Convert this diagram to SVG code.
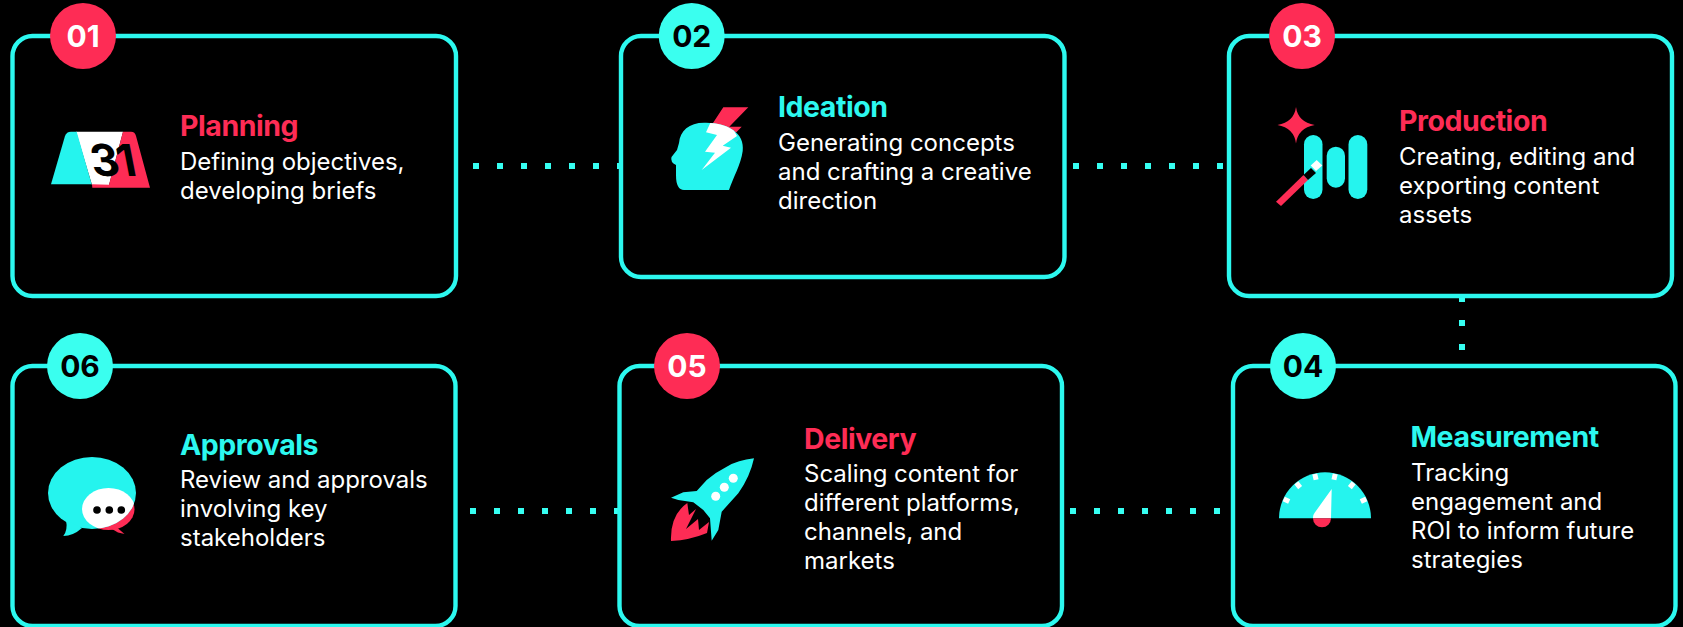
<svg xmlns="http://www.w3.org/2000/svg" width="1683" height="627" viewBox="0 0 1683 627">
<style>
.box{fill:#000;stroke:#2cf8ef;stroke-width:4.4}
.dots{fill:none;stroke:#36fff2;stroke-width:6;stroke-dasharray:6 18}
.c{fill:#25f4ee}.r{fill:#fe2c55}.w{fill:#fff}.k{fill:#000}
.bc{fill:#3affef}.br{fill:#fe2c55}
text{font-family:Inter,"Liberation Sans",sans-serif}
.n{font-size:30px;font-weight:700;text-anchor:middle}
.t{font-size:28.5px;font-weight:700;letter-spacing:-.45px}
.tc{fill:#2cf8ef}.tr{fill:#fe2c55}
.d{font-size:24px;fill:#fff}
</style>
<defs>
<clipPath id="headClip"><path d="M729 190C733 178 741 164 742.700 151C745 133 728 123 706 122.700C690 122 680 130 679 143L677 150L671.500 157Q670 162 676 165L676 175Q676 190 684 190Z"/></clipPath>
<clipPath id="bubbleClip"><ellipse cx="92" cy="493" rx="44" ry="36"/></clipPath>
</defs>
<rect width="1683" height="627" fill="#000"/>
<g id="connectors">
<path class="dots" d="M473 166H621"/>
<path class="dots" d="M1073 166H1223"/>
<path class="dots" d="M470 511H618"/>
<path class="dots" d="M1070 511H1220"/>
<path class="dots" d="M1462 296V350"/>
</g>
<g id="node-01">
<rect class="box" x="12.500" y="36" width="443.500" height="260" rx="20"/>
<circle class="br" cx="83" cy="36" r="33"/>
<text class="n w" x="83" y="46.500">01</text>
<path class="w" d="M76 131.700H123L109 185H92Z"/>
<path class="c" d="M51 184.300L65 136Q66.500 131.700 71 131.700H76.700L91.700 184.300Z"/>
<path class="r" d="M123 131.700H131Q135 131.700 136 136L150 187.700H92.300L92 184.300L109 184.800Z"/>
<text class="k" transform="translate(93.500 175.500) skewX(11)" font-size="44" font-weight="700" letter-spacing="-2.500">31</text>
<text class="t tr" x="180" y="135.500">Planning</text>
<text class="d" x="180" y="170">Defining objectives,</text>
<text class="d" x="180" y="199">developing briefs</text>
</g>
<g id="node-02">
<rect class="box" x="621" y="36" width="443.500" height="241" rx="20"/>
<circle class="bc" cx="691.700" cy="36" r="33"/>
<text class="n k" x="691.700" y="46.500">02</text>
<path class="r" d="M723.300 107.300H748.300L729.300 126.700H741.700L731.700 137L711.700 125Z"/>
<path class="c" d="M729 190C733 178 741 164 742.700 151C745 133 728 123 706 122.700C690 122 680 130 679 143L677 150L671.500 157Q670 162 676 165L676 175Q676 190 684 190Z"/>
<path class="w" clip-path="url(#headClip)" d="M711.700 120L727 118L737 136L722.700 145.700L731 147.700L701.700 170L715 152.700L705 151.700L717 135L706 132.300Z"/>
<text class="t tc" x="778" y="117">Ideation</text>
<text class="d" x="778" y="151">Generating concepts</text>
<text class="d" x="778" y="180">and crafting a creative</text>
<text class="d" x="778" y="209">direction</text>
</g>
<g id="node-03">
<rect class="box" x="1229" y="36" width="443" height="260" rx="20"/>
<circle class="br" cx="1302" cy="36" r="33"/>
<text class="n w" x="1302" y="46.500">03</text>
<path class="r" d="M1296 107Q1298 122 1314.700 125Q1298 128 1296 143.500Q1294 128 1277.500 125Q1294 122 1296 107Z"/>
<rect class="c" x="1304" y="135" width="18.500" height="64" rx="9.200"/>
<rect class="c" x="1326.700" y="146.700" width="18.300" height="41" rx="9.100"/>
<rect class="c" x="1348.500" y="135" width="18.800" height="64" rx="9.400"/>
<path class="r" d="M1276 201.700L1303.500 175L1308 180L1281 206Z"/>
<path class="k" d="M1303.500 175L1311 168L1316 173L1308 180Z"/>
<path class="w" d="M1310.700 165.500L1316.700 160L1322.300 165.500L1316 171Z"/>
<text class="t tr" x="1399" y="131">Production</text>
<text class="d" x="1399" y="165">Creating, editing and</text>
<text class="d" x="1399" y="194">exporting content</text>
<text class="d" x="1399" y="223">assets</text>
</g>
<g id="node-04">
<rect class="box" x="1233" y="366" width="442.500" height="260" rx="20"/>
<circle class="bc" cx="1303" cy="366" r="33"/>
<text class="n k" x="1303" y="376.500">04</text>
<path class="c" d="M1279 518.300A46 46 0 0 1 1371 518.300Z"/>
<g class="w">
<rect x="-2.500" y="-45.500" width="5" height="6" transform="translate(1325 518.300) rotate(-65)"/>
<rect x="-2.500" y="-45.500" width="5" height="6" transform="translate(1325 518.300) rotate(-39)"/>
<rect x="-2.500" y="-45.500" width="5" height="6" transform="translate(1325 518.300) rotate(-13)"/>
<rect x="-2.500" y="-45.500" width="5" height="6" transform="translate(1325 518.300) rotate(13)"/>
<rect x="-2.500" y="-45.500" width="5" height="6" transform="translate(1325 518.300) rotate(39)"/>
<rect x="-2.500" y="-45.500" width="5" height="6" transform="translate(1325 518.300) rotate(65)"/>
</g>
<path class="w" d="M1331.700 489L1331 518.300H1313Q1312.800 515 1314.500 513Z"/>
<path class="r" d="M1313 518.300H1331A9 9 0 0 1 1313 518.300Z"/>
<text class="t tc" x="1410.500" y="447">Measurement</text>
<text class="d" x="1411" y="481">Tracking</text>
<text class="d" x="1411" y="510">engagement and</text>
<text class="d" x="1411" y="539">ROI to inform future</text>
<text class="d" x="1411" y="567.500">strategies</text>
</g>
<g id="node-05">
<rect class="box" x="619.500" y="366" width="442.500" height="260" rx="20"/>
<circle class="br" cx="687" cy="366" r="33"/>
<text class="n w" x="687" y="376.500">05</text>
<path class="r" d="M687.300 503L689 515L696 509L686 529L698 519L699 530L709 522L707 533Q690 540 671 541Q670 515 687.300 503Z"/>
<path class="c" d="M754 458.300Q738 460 726.700 466.700Q716 472 706.700 480L696.700 491L683.300 492.300L671 497.700L678.300 500L693.300 502.300L703.300 510L710 518.300L711.700 540.700L718.300 530L721.700 511.700L738.300 493.300Q750 477 754 458.300Z"/>
<circle class="w" cx="733.300" cy="478.300" r="4.500"/>
<circle class="w" cx="724.300" cy="487.300" r="4.500"/>
<circle class="w" cx="715.700" cy="496.300" r="4.500"/>
<text class="t tr" x="804" y="449">Delivery</text>
<text class="d" x="804" y="482">Scaling content for</text>
<text class="d" x="804" y="511">different platforms,</text>
<text class="d" x="804" y="540">channels, and</text>
<text class="d" x="804" y="569">markets</text>
</g>
<g id="node-06">
<rect class="box" x="12.500" y="366" width="443" height="260" rx="20"/>
<circle class="bc" cx="80" cy="366" r="33"/>
<text class="n k" x="80" y="376.500">06</text>
<ellipse class="r" cx="108.500" cy="509.500" rx="26" ry="20.500"/>
<path class="r" d="M114 525L124.500 534L118 532.500L112 529Z"/>
<ellipse class="c" cx="92" cy="493" rx="44" ry="36"/>
<path class="c" d="M66 520Q68 530 63.300 536Q73 536 82 528Z"/>
<ellipse class="w" clip-path="url(#bubbleClip)" cx="108.500" cy="509" rx="26.500" ry="21"/>
<circle class="k" cx="97" cy="510" r="3.800"/>
<circle class="k" cx="109.300" cy="510" r="3.800"/>
<circle class="k" cx="121.300" cy="510" r="3.800"/>
<text class="t tc" x="180" y="454.500">Approvals</text>
<text class="d" x="180" y="488">Review and approvals</text>
<text class="d" x="180" y="517">involving key</text>
<text class="d" x="180" y="546">stakeholders</text>
</g>
</svg>
